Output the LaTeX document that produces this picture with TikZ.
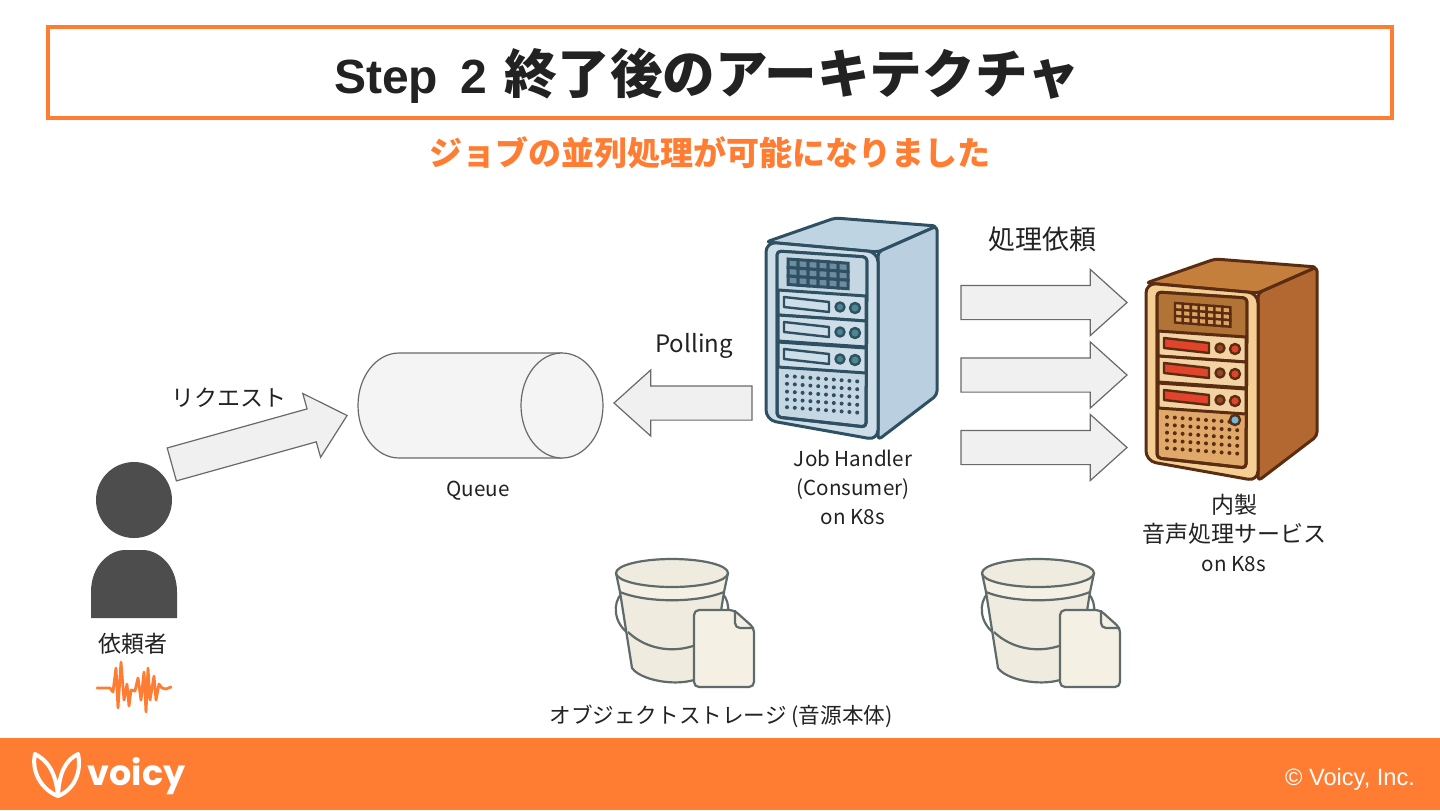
\documentclass[tikz,border=0pt]{standalone}
\usepackage{fontspec}
\setmainfont{Noto Sans CJK JP}
\newfontfamily\logofont{Poppins}
\newfontfamily\footfont{Liberation Sans}
\usepackage{tikz}
\usetikzlibrary{shapes.arrows}
\usepackage{xcolor}
\definecolor{voicyorange}{RGB}{255,125,50}
\definecolor{inkdark}{RGB}{34,34,34}
\definecolor{persongray}{RGB}{77,77,77}
\definecolor{arrowfill}{RGB}{240,240,240}
\definecolor{arrowline}{RGB}{105,105,105}
\definecolor{queuefill}{RGB}{244,244,244}
\definecolor{bucketfill}{RGB}{240,235,223}
\definecolor{docfill}{RGB}{245,240,228}
\definecolor{bucketline}{RGB}{95,106,106}
% blue rack
\definecolor{blueline}{RGB}{47,79,99}
\definecolor{bluefront}{RGB}{205,222,232}
\definecolor{blueside}{RGB}{186,208,224}
\definecolor{bluetop}{RGB}{190,212,226}
\definecolor{bluepanel}{RGB}{197,215,227}
\definecolor{bluehead}{RGB}{197,215,227}
\definecolor{bluerow}{RGB}{205,222,232}
\definecolor{bluecell}{RGB}{110,140,160}
\definecolor{blueslot}{RGB}{205,222,232}
\definecolor{blueknobA}{RGB}{75,135,140}
\definecolor{blueknobB}{RGB}{75,135,140}
% brown rack
\definecolor{brownline}{RGB}{90,45,18}
\definecolor{brownfront}{RGB}{245,206,147}
\definecolor{brownside}{RGB}{178,104,48}
\definecolor{browntop}{RGB}{196,127,61}
\definecolor{brownpanel}{RGB}{224,169,106}
\definecolor{brownhead}{RGB}{178,116,54}
\definecolor{brownrow}{RGB}{243,211,163}
\definecolor{browncell}{RGB}{222,165,98}
\definecolor{brownslot}{RGB}{226,67,43}
\definecolor{brownknobA}{RGB}{150,75,40}
\definecolor{brownknobB}{RGB}{226,67,43}
\definecolor{ledblue}{RGB}{110,185,225}
\tikzset{
  titletext/.style={font=\fontsize{26.3}{30}\selectfont\bfseries,text=inkdark,inner sep=0pt},
  subtext/.style={font=\fontsize{16.5}{20}\selectfont\bfseries,text=voicyorange,inner sep=0pt},
  label/.style={font=\fontsize{11.5}{14.5}\selectfont,text=inkdark,align=center,inner sep=0pt},
  smalllabel/.style={font=\fontsize{10.3}{14.5}\selectfont,text=inkdark,align=center,inner sep=0pt},
  blockarrow/.style={single arrow,draw=arrowline,fill=arrowfill,line width=0.6pt,inner xsep=0pt,inner ysep=8.25pt,
    minimum width=32.5pt,single arrow head extend=8pt,single arrow tip angle=84,minimum height=83pt},
  pics/rackserver/.style={code={
    \begin{scope}[line width=1.5pt,draw=#1line,line join=round]
      \draw[fill=#1top,rounded corners=2pt] (0,0) -- (69,-24) -- (171,-16) -- (112,10) -- cycle;
      \draw[fill=#1side,rounded corners=2pt] (112,10) -- (171,-16) -- (171,153) -- (112,198) -- cycle;
      \draw[fill=#1front,rounded corners=5pt] (0,0) -- (112,10) -- (112,198) -- (0,178) -- cycle;
      \draw[fill=#1panel,rounded corners=2pt] (11,9) -- (101,15) -- (100,185) -- (11,175) -- cycle;
      \fill[#1head] (11,9) -- (101,15) -- (100,54) -- (12,48) -- cycle;
      \foreach \d/\h in {0/25,25/26,52/25} {
        \draw[fill=#1row] (12,48+\d) -- (100,54+\d) -- (100,54+\d+\h) -- (12,48+\d+\h) -- cycle;
        \draw[fill=#1slot,line width=1.2pt] (18,55+\d) -- (63,60+\d) -- (63,70+\d) -- (18,65+\d) -- cycle;
        \draw[fill=#1knobA,line width=1.2pt] (74,65+\d) circle (4.5);
        \draw[fill=#1knobB,line width=1.2pt] (89,66+\d) circle (5);
      }
      \foreach \i in {0,...,9} \foreach \j in {0,...,4}
        \fill[#1line] (21+7.8*\i,134+7.8*\j+0.6*\i) circle (2);
      \draw[rounded corners=2pt] (11,9) -- (101,15) -- (100,185) -- (11,175) -- cycle;
    \end{scope}
  }},
  pics/waterbucket/.style={code={
    \begin{scope}[line width=1.1pt,draw=bucketline,line join=round]
      \draw (-50,20) .. controls (-60,30) and (-58,50) .. (-44,60);
      \draw (50,20) .. controls (60,30) and (58,50) .. (44,60);
      \draw[fill=bucketfill] (-52,19) -- (-40,95) .. controls (-30,110) and (25,118) .. (40,95) -- (52,19) -- cycle;
      \draw (-44,59) .. controls (-20,82) and (20,82) .. (45,59);
      \draw[fill=docfill] (-56,0) -- (-52,19) .. controls (-25,30) and (25,30) .. (52,19) -- (56,0) -- cycle;
      \draw[fill=bucketfill] (0,0) ellipse (56 and 14);
      \draw[fill=docfill,rounded corners=2.5pt] (22,37) -- (62,37) -- (82,55) -- (82,114) -- (22,114) -- cycle;
      \draw[rounded corners=2.5pt] (63,37) -- (63,55) -- (82,55);
    \end{scope}
  }},
}
\begin{document}
\begin{tikzpicture}[x=0.5pt,y=-0.5pt]
  \useasboundingbox (0,0) rectangle (1440,810);
  \fill[white] (0,0) rectangle (1440,810);

  % title
  \draw[voicyorange,line width=2pt] (48,27) rectangle (1392,118);
  \node[titletext] (title) at (707,76) {{\footfont\fontsize{24}{30}\selectfont\bfseries Step\hspace{11pt}2}\hspace{9pt}終了後のアーキテクチャ};
  \node[subtext] (subtitle) at (710,153) {ジョブの並列処理が可能になりました};

  % requester
  \fill[persongray] (134,500) circle (38);
  \fill[persongray] (91,618) -- (91,592) .. controls (91,565) and (110,550) .. (125,550) -- (143,550)
    .. controls (158,550) and (177,565) .. (177,592) -- (177,618) -- cycle;
  \node[label] (requester) at (133,644) {依頼者};
  \draw[voicyorange,line width=1.4pt,line join=round,line cap=round] plot coordinates {
    (97,688) (110,688) (113,692) (116,668) (118,708) (121,662) (124,700) (127,684) (129,706) (131,690)
    (135,691) (138,678) (141,700) (144,672) (146,712) (148,668) (150,700) (154,676) (156,700) (159,684)
    (162,688) (166,689) (171,687)};

  \node[blockarrow,minimum height=91pt,rotate=15.6] (requestarrow) at (250.3,442.5) {};
  \node[label] (request) at (229,398) {リクエスト};

  % queue
  \draw[arrowline,fill=queuefill,line width=0.6pt] (562,353) -- (399,353)
    arc[start angle=-90,delta angle=-180,x radius=41,y radius=52.5] -- (562,458);
  \draw[arrowline,fill=queuefill,line width=0.6pt] (562,405.5) ellipse (41 and 52.5);
  \node[smalllabel] (queuelabel) at (478,491) {Queue};

  \node[blockarrow,minimum height=69pt,shape border rotate=180] (pollarrow) at (692.5,403) {};
  \node[label,font=\fontsize{12}{15}\selectfont] (polling) at (694,346) {Polling};

  % job handler
  \pic at (766,242) {rackserver=blue};
  \begin{scope}[shift={(766,242)}]
    \foreach \i in {0,...,5} \foreach \j in {0,1,2}
      \draw[blueline,fill=bluecell,line width=1.5pt] (22+10*\i,17+8.5*\j+0.7*\i) -- ++(10,0.7) -- ++(0,8.5) -- ++(-10,-0.7) -- cycle;
  \end{scope}
  \node[smalllabel] (handler) at (853,487) {Job Handler\\(Consumer)\\on K8s};

  % processing requests
  \foreach \y/\n in {302.5/a,375/b,447.5/c}
    \node[blockarrow] (workarrow\n) at (1034.5,\y) {};
  \node[label,font=\fontsize{13.5}{16}\selectfont] (worklabel) at (1042,239) {処理依頼};

  % audio service
  \pic at (1146,283) {rackserver=brown};
  \begin{scope}[shift={(1146,283)}]
    \foreach \i in {0,...,6} \foreach \j in {0,1,2}
      \draw[brownline,fill=browncell,line width=1.2pt] (29+7.9*\i,20+6.5*\j+0.6*\i) -- ++(7.9,0.6) -- ++(0,6.5) -- ++(-7.9,-0.6) -- cycle;
    \draw[brownline,fill=ledblue,line width=1.2pt] (89,137) circle (5);
  \end{scope}
  \node[label] (service) at (1234,533) {内製\\音声処理サービス\\{\fontsize{10.3}{14.5}\selectfont on K8s}};

  % storage
  \pic at (672,573) {waterbucket};
  \pic at (1038,573) {waterbucket};
  \node[label,font=\fontsize{10.8}{14}\selectfont] (storage) at (721,716) {オブジェクトストレージ (音源本体)};

  % footer
  \fill[voicyorange] (0,738) rectangle (1440,810);
  \draw[white,line width=2pt,line join=round] (35,754) .. controls (31,772) and (42,790) .. (58,796)
    .. controls (74,790) and (82,772) .. (78,754) .. controls (66,760) and (59,772) .. (58,796)
    .. controls (56,772) and (47,760) .. (35,754) -- cycle;
  \node[inner sep=0pt,text=white,font=\logofont\fontsize{17.5}{22}\selectfont\bfseries] (logo) at (136.5,776) {voicy};
  \node[inner sep=0pt,text=white,font=\footfont\fontsize{11.8}{14}\selectfont] (copyright) at (1350,779) {© Voicy, Inc.};
\end{tikzpicture}
\end{document}
